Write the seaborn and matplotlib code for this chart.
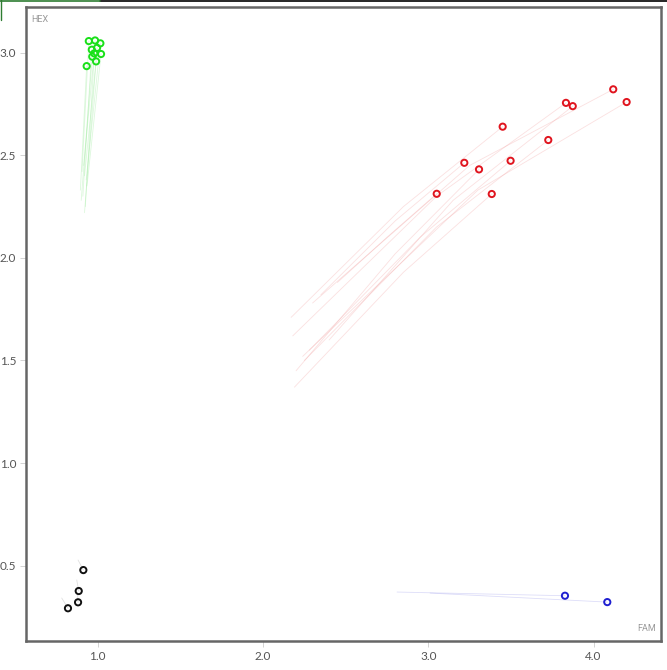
import pandas as pd
import matplotlib
matplotlib.use("Agg")
import matplotlib.pyplot as plt
from matplotlib.lines import Line2D
import seaborn as sns

# current positions (hollow markers) and earlier positions (trails)
green_x = [0.946, 0.984, 1.016, 0.964, 0.996, 1.020, 0.979, 0.967, 0.990, 0.933]
green_y = [3.056, 3.059, 3.045, 3.014, 3.023, 2.993, 2.996, 2.980, 2.957, 2.934]
green_start_x = [0.905, 0.925, 0.930, 0.910, 0.920, 0.935, 0.915, 0.900, 0.920, 0.895]
green_start_y = [2.42, 2.25, 2.38, 2.30, 2.22, 2.35, 2.45, 2.28, 2.40, 2.33]

red_x = [4.119, 4.200, 3.833, 3.874, 3.450, 3.726, 3.218, 3.498, 3.307, 3.051, 3.384]
red_y = [2.821, 2.759, 2.755, 2.739, 2.639, 2.574, 2.463, 2.473, 2.431, 2.312, 2.311]
red_mid_x = [3.25, 3.30, 3.05, 3.15, 2.85, 3.05, 2.80, 2.95, 2.80, 2.75, 2.85]
red_mid_y = [2.45, 2.33, 2.30, 2.28, 2.25, 2.15, 2.18, 2.10, 2.02, 2.10, 1.93]
red_start_x = [2.30, 2.24, 2.18, 2.40, 2.17, 2.25, 2.35, 2.28, 2.20, 2.45, 2.19]
red_start_y = [1.78, 1.52, 1.62, 1.60, 1.71, 1.50, 1.82, 1.55, 1.45, 1.88, 1.37]

black_x = [0.913, 0.885, 0.881, 0.820]
black_y = [0.479, 0.377, 0.322, 0.293]
black_start_x = [0.881, 0.873, 0.878, 0.782]
black_start_y = [0.528, 0.431, 0.360, 0.343]

blue_x = [3.827, 4.083]
blue_y = [0.354, 0.323]
blue_start_x = [2.811, 3.011]
blue_start_y = [0.372, 0.367]

palette = {"green": "#19e019", "red": "#e0141e", "black": "#111111", "blue": "#1f1fd0"}
trail_palette = {"green": "#8ee88e", "red": "#f29a9a", "black": "#999999", "blue": "#9090ea"}

pts = pd.concat([
    pd.DataFrame({"x": green_x, "y": green_y, "grp": "green"}),
    pd.DataFrame({"x": red_x, "y": red_y, "grp": "red"}),
    pd.DataFrame({"x": black_x, "y": black_y, "grp": "black"}),
    pd.DataFrame({"x": blue_x, "y": blue_y, "grp": "blue"}),
], ignore_index=True)

rows = []
def add_tracks(grp, xs_list, ys_list):
    for i in range(len(xs_list[0])):
        for k in range(len(xs_list)):
            rows.append({"track": f"{grp}{i}", "step": k, "x": xs_list[k][i], "y": ys_list[k][i], "grp": grp})

add_tracks("green", [green_start_x, green_x], [green_start_y, green_y])
add_tracks("red", [red_start_x, red_mid_x, red_x], [red_start_y, red_mid_y, red_y])
add_tracks("black", [black_start_x, black_x], [black_start_y, black_y])
add_tracks("blue", [blue_start_x, blue_x], [blue_start_y, blue_y])
trails = pd.DataFrame(rows)

sns.set_style("white")
plt.rcParams["font.family"] = ["Lato", "DejaVu Sans"]

fig = plt.figure(figsize=(6.67, 6.70), dpi=100)
ax = fig.add_axes([26 / 667, 29 / 670, 635 / 667, 634 / 670])

sns.lineplot(data=trails, x="x", y="y", units="track", estimator=None, sort=False,
             hue="grp", palette=trail_palette, legend=False, lw=0.6, alpha=0.3, ax=ax)
sns.scatterplot(data=pts, x="x", y="y", hue="grp", palette=palette, legend=False,
                s=20, linewidth=1.4, ax=ax, zorder=5)
for coll in ax.collections:
    fc = coll.get_facecolors()
    coll.set_edgecolors(fc)
    coll.set_facecolors("none")

ax.set_xlim(0.566, 4.408)
ax.set_ylim(0.1335, 3.222)
ax.set_xticks([1.0, 2.0, 3.0, 4.0])
ax.set_yticks([0.5, 1.0, 1.5, 2.0, 2.5, 3.0])
ax.set_xticklabels(["1.0", "2.0", "3.0", "4.0"])
ax.set_yticklabels(["0.5", "1.0", "1.5", "2.0", "2.5", "3.0"])
ax.tick_params(axis="both", length=4, width=0.6, color="#cccccc", labelcolor="#555555",
               labelsize=8.5, pad=3, bottom=True, left=True)
ax.set_xlabel("")
ax.set_ylabel("")
for sp in ax.spines.values():
    sp.set_color("#666666")
    sp.set_linewidth(1.8)

ax.text(0.008, 0.988, "HEX", transform=ax.transAxes, ha="left", va="top",
        fontsize=6.5, color="#999999", family=["Roboto", "DejaVu Sans"])
ax.text(0.992, 0.012, "FAM", transform=ax.transAxes, ha="right", va="bottom",
        fontsize=6.5, color="#999999", family=["Roboto", "DejaVu Sans"])

# thin border fragments along the top edge of the screenshot
fig.add_artist(Line2D([100 / 667, 1.0], [0.9985, 0.9985], color="black", lw=1.2, transform=fig.transFigure))
fig.add_artist(Line2D([0.0, 100 / 667], [0.9985, 0.9985], color="#2e7d32", lw=1.2, transform=fig.transFigure))
fig.add_artist(Line2D([0.001, 0.001], [1.0, 1 - 20 / 670], color="#2e7d32", lw=1.0, transform=fig.transFigure))

fig.savefig("out.png", dpi=100, facecolor="white")
